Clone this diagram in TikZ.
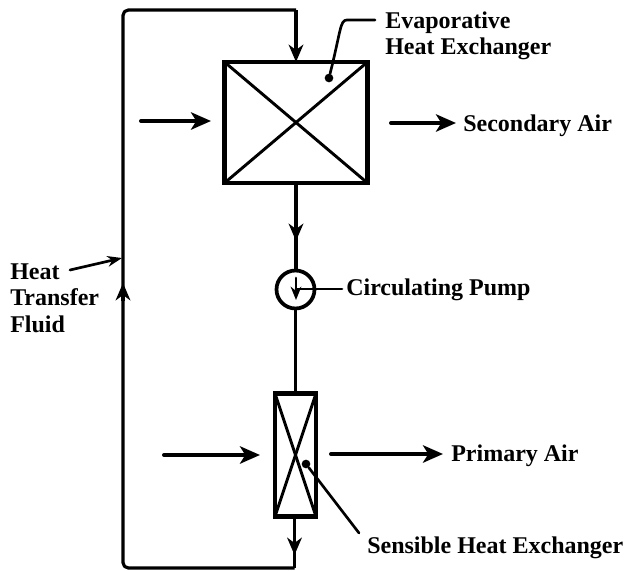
\documentclass[tikz,border=0pt]{standalone}
\usepackage{fontspec}
\setmainfont{Liberation Serif}
\usetikzlibrary{arrows.meta}
\tikzset{
  x=0.75pt,y=-0.75pt,
  pipe/.style={line width=2.4pt,line join=round},
  tipped/.style={line width=2.4pt,-{Stealth[length=13pt,width=11pt,inset=4pt]}},
  airflow/.style={line width=3pt,line cap=round,-{Stealth[length=15pt,width=13pt,inset=4pt]}},
  lead/.style={line width=2pt,line cap=round},
  hx/.style={draw,line width=3.2pt,inner sep=0pt,outer sep=0pt},
  cross/.style={line width=2.2pt},
  lbl/.style={font=\bfseries\fontsize{18pt}{20pt}\selectfont,inner sep=0pt,anchor=base west},
  dot/.style={circle,fill=black,inner sep=0pt,minimum size=6.5pt},
}
\begin{document}
\begin{tikzpicture}
\useasboundingbox (0,0) rectangle (626,571);
% nodes
\node[hx,minimum width=143pt*0.75,minimum height=121pt*0.75] (evap) at (296,122.5) {};
\node[hx,minimum width=41pt*0.75,minimum height=123pt*0.75] (sens) at (295.5,455) {};
\node[draw,circle,line width=2.8pt,minimum size=38pt*0.75,inner sep=0pt] (pump) at (295.5,289.5) {};
% text
\node[lbl] (t1) at (385,28) {Evaporative};
\node[lbl] (t2) at (385,55) {Heat Exchanger};
\node[lbl] (t3) at (463,131) {Secondary Air};
\node[lbl] (t4) at (346,295) {Circulating Pump};
\node[lbl] (t5) at (451,461) {Primary Air};
\node[lbl] (t6) at (367,553) {Sensible Heat Exchanger};
\node[lbl] (t7) at (10,279) {Heat};
\node[lbl] (t8) at (10,305) {Transfer};
\node[lbl] (t9) at (10,332) {Fluid};
% coordinates
\coordinate (tl) at (123,10);
\coordinate (tr) at (296,10);
\coordinate (bl) at (123,568);
\coordinate (br) at (294.5,568);
\coordinate (ups) at (123,301);
\coordinate (upe) at (123,283);
\coordinate (m1s) at (296,223);
\coordinate (m1e) at (296,241);
\coordinate (m2s) at (294.5,537);
\coordinate (m2e) at (294.5,555);
\coordinate (hs) at (70,270);
\coordinate (he) at (122,258);
\coordinate (a1s) at (141,121);
\coordinate (a1e) at (211,121);
\coordinate (a2s) at (391,123);
\coordinate (a2e) at (456,123);
\coordinate (a3s) at (164,455);
\coordinate (a3e) at (260,455);
\coordinate (a4s) at (331,454);
\coordinate (a4e) at (443,454);
\node[dot] (d1) at (329,78) {};
\node[dot] (d2) at (306,464) {};
\coordinate (d3) at (296,289);
\coordinate (l1) at (375,20);
\coordinate (l2) at (359,533);
\coordinate (l3) at (342,289);
% loop
\draw[pipe,rounded corners=4pt] (br) -- (bl) -- (tl) -- (tr);
\draw[tipped] (tr) -- (evap.north -| tr);
\draw[pipe] (evap.south -| m1s) -- (pump.north -| m1s);
\draw[pipe] (pump.south) -- (sens.north);
\draw[pipe] (sens.south -| m2s) -- (br);
\draw[tipped] (m1s) -- (m1e);
\draw[tipped] (m2s) -- (m2e);
\draw[tipped] (ups) -- (upe);
% crosses
\draw[cross] (evap.north west) -- (evap.south east);
\draw[cross] (evap.north east) -- (evap.south west);
\draw[cross] (sens.north west) -- (sens.south east);
\draw[cross] (sens.north east) -- (sens.south west);
% air
\draw[airflow] (a1s) -- (a1e);
\draw[airflow] (a2s) -- (a2e);
\draw[airflow] (a3s) -- (a3e);
\draw[airflow] (a4s) -- (a4e);
% leaders
\draw[lead] (l1) -- (347,20) .. controls (340,20) and (341,30) .. (d1);
\draw[lead] (l2) -- (d2);
\draw[lead] (l3) -- (d3);
\draw[lead,-{Stealth[length=10pt,width=8pt]}] (296,278) -- (296,300);
\draw[lead,-{Stealth[length=11pt,width=8pt]}] (hs) -- (he);
\end{tikzpicture}
\end{document}
